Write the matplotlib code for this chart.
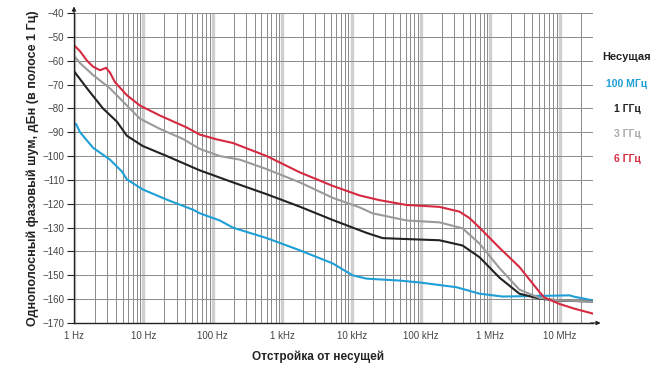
import numpy as np
import matplotlib.pyplot as plt

# offset frequency, Hz, and SSB phase noise, dBc/Hz
f_red = [1, 1.22, 1.54, 1.88, 2.37, 2.89, 3.3, 3.89, 5.79, 8.9, 17.3, 42, 65, 114, 194,
         598, 1785, 5330, 13000, 25300, 61800, 184000, 358000, 499000, 695000,
         1.35e6, 2.61e6, 5.07e6, 5.98e6, 9.84e6, 1.62e7, 2.94e7]
red = [-53.5, -56, -60, -62.5, -64, -63, -65, -69, -74.5, -78.8, -83, -88, -91, -93, -94.5,
       -100, -106.8, -112.5, -116.5, -118.5, -120.5, -121.3, -123.3, -126, -130,
       -138.5, -146.5, -157, -159.3, -162, -164, -166]

f_gray = [1, 1.22, 1.88, 3.3, 5.79, 8.9, 17.3, 37, 65, 126, 245, 598, 1785, 5330,
          13000, 20000, 61800, 184000, 396000, 695000, 1.35e6, 2.61e6, 5.07e6,
          9.84e6, 2.94e7]
gray = [-58, -61, -66, -71.6, -78.8, -84.3, -88.6, -92.8, -97, -100, -101.5, -105.5,
        -111, -117.5, -121.5, -124, -127, -127.8, -130.3, -136.7, -147, -156, -159.5,
        -160.5, -161]

f_black = [1, 1.54, 2.61, 4.16, 5.79, 9.8, 21.8, 65, 194, 598, 1785, 5330, 16400,
           27900, 61800, 184000, 396000, 695000, 1.35e6, 2.61e6, 5.07e6, 9.84e6, 2.94e7]
black = [-64.4, -71.6, -80, -85.6, -91.5, -95.8, -100, -106, -111, -116, -121.2,
         -126.8, -132.2, -134.4, -134.8, -135.3, -137.5, -142.4, -151, -157.7, -159.8,
         -160.6, -161]

f_blue = [1, 1.07, 1.22, 1.88, 3.3, 4.91, 5.79, 9.8, 21.8, 52, 65, 126, 194, 598, 1785,
          5330, 10300, 16400, 49000, 95000, 324000, 695000, 1.49e6, 6.4e6, 1.37e7,
          1.62e7, 2.94e7]
blue = [-87, -86.5, -90, -96.5, -101.5, -106.5, -109.8, -114, -118.3, -122.5, -124,
        -127, -130, -134.4, -139.5, -145, -150, -151.4, -152.2, -153, -155, -157.7,
        -158.9, -158.6, -158.4, -159, -160.5]

yticks = list(range(-40, -171, -10))
xticks = [1, 10, 100, 1e3, 1e4, 1e5, 1e6, 1e7]
xlabels = ['1 Hz', '10 Hz', '100 Hz', '1 kHz', '10 kHz', '100 kHz', '1 MHz', '10 MHz']

legend_title = 'Несущая'
legend_names = ['100 МГц', '1 ГГц', '3 ГГц', '6 ГГц']

c_blue, c_black, c_gray, c_red = '#1e9fd6', '#222222', '#9a9a9a', '#d62a40'

plt.rcParams['font.family'] = ['Liberation Sans Narrow', 'Liberation Sans', 'DejaVu Sans']

fig = plt.figure(figsize=(6.67, 3.67), dpi=100)
ax = fig.add_axes([74 / 667, 1 - 323 / 367, (593 - 74) / 667, (323 - 13) / 367])
ax.set_xscale('log')
ax.set_xlim(1, 3e7)
ax.set_ylim(-170, -40)

# grid: light wide decade lines, thin darker minor lines
for d in xticks:
    ax.axvline(d, color='#cfcfcf', lw=2.4, zorder=0)
for d in xticks:
    for m in range(2, 10):
        if d * m <= 3e7:
            ax.axvline(d * m, color='#8a8a8a', lw=0.7, zorder=0)
ax.axvline(3e7, color='#8a8a8a', lw=0.7, zorder=0)
for y in yticks:
    ax.axhline(y, color='#8a8a8a', lw=0.7, zorder=0)

ax.plot(f_blue, blue, color=c_blue, lw=1.5)
ax.plot(f_black, black, color=c_black, lw=1.5)
ax.plot(f_gray, gray, color=c_gray, lw=1.5)
ax.plot(f_red, red, color=c_red, lw=1.5)

for s in ['top', 'right']:
    ax.spines[s].set_visible(False)
ax.spines['left'].set_color('#222222')
ax.spines['bottom'].set_color('#222222')
ax.spines['left'].set_linewidth(1.0)
ax.spines['bottom'].set_linewidth(1.0)
# axis arrows
ax.annotate('', xy=(0, 1.03), xytext=(0, 0.99), xycoords='axes fraction',
            arrowprops=dict(arrowstyle='-|>', color='#222222', lw=0.8, mutation_scale=6),
            annotation_clip=False)
ax.annotate('', xy=(1.02, 0), xytext=(0.99, 0), xycoords='axes fraction',
            arrowprops=dict(arrowstyle='-|>', color='#222222', lw=0.8, mutation_scale=6),
            annotation_clip=False)

ax.set_yticks(yticks)
ax.set_yticklabels(['\u2212%d' % (-v) for v in yticks], fontsize=7, color='#444444')
ax.tick_params(axis='y', length=5, width=0.8, color='#222222', pad=2)
ax.set_xticks(xticks)
ax.set_xticklabels(xlabels, fontsize=7, color='#444444')
ax.xaxis.set_minor_locator(plt.NullLocator())
ax.tick_params(axis='x', length=0, pad=6)

ax.set_ylabel('Однополосный фазовый шум, дБн (в полосе 1 Гц)', fontsize=9,
              fontweight='bold', color='#222222', labelpad=2)
fig.text(318 / 667, 1 - 357 / 367, 'Отстройка от несущей', fontsize=8.5,
         fontweight='bold', color='#222222', ha='center', va='center')

fig.text(627 / 667, 1 - 57 / 367, legend_title, fontsize=8, fontweight='bold',
         color='#222222', ha='center', va='center')
for i, (name, c) in enumerate(zip(legend_names, [c_blue, c_black, '#aaaaaa', c_red])):
    fig.text(627 / 667, 1 - (84 + 25 * i) / 367, name, fontsize=7.5, fontweight='bold',
             color=c, ha='center', va='center')

fig.savefig('out.png', dpi=100)
